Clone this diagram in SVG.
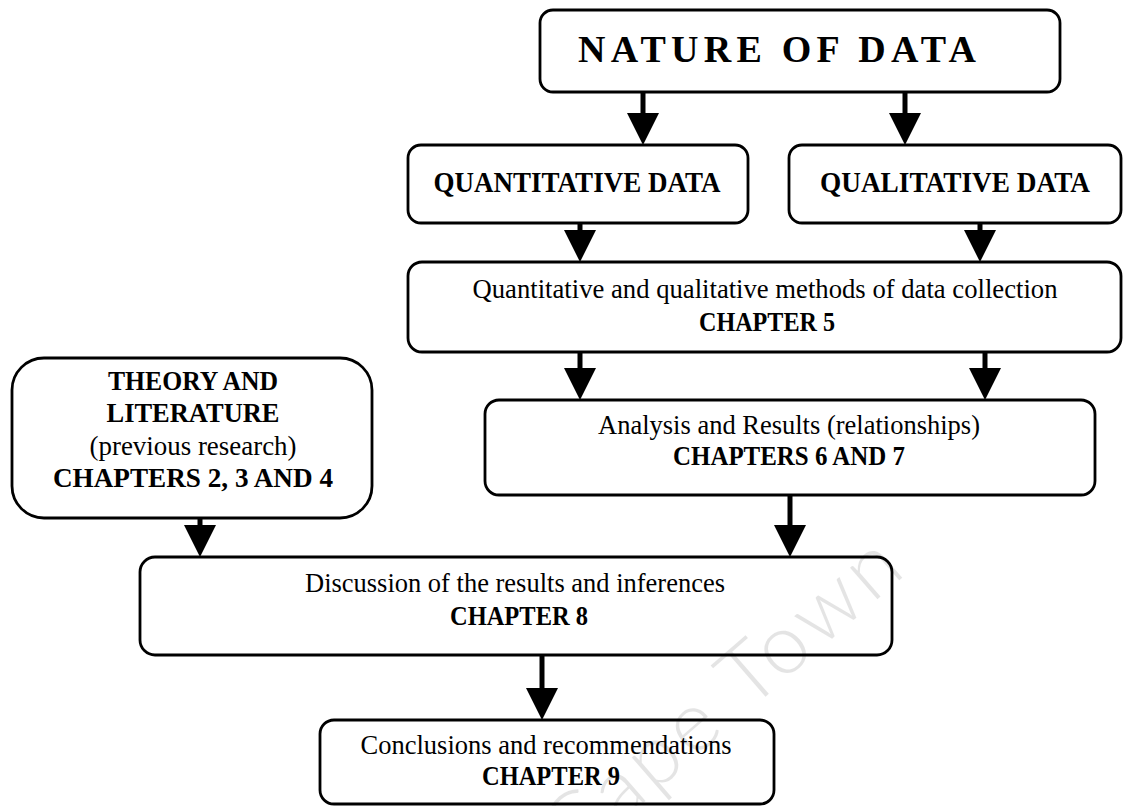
<svg xmlns="http://www.w3.org/2000/svg" width="1124" height="806" viewBox="0 0 1124 806">
  <style>
    .box { fill: #ffffff; stroke: #000000; stroke-width: 2.8; }
    .t { font-family: "Liberation Serif", "Times New Roman", serif; font-size: 26.5px; fill: #000000; text-anchor: middle; }
    .b { font-weight: bold; }
    .cap { font-family: "Liberation Serif", "Times New Roman", serif; font-size: 30px; font-weight: bold; fill: #000000; text-anchor: middle; }
    .title { font-family: "Liberation Serif", "Times New Roman", serif; font-size: 38px; font-weight: bold; fill: #000000; text-anchor: middle; }
    .link { stroke: #000000; stroke-width: 5; fill: none; marker-end: url(#head); }
    .mark { font-family: Lato, "Liberation Sans", Arial, sans-serif; font-weight: 300; font-size: 84px; letter-spacing: 5px; fill: #000000; opacity: 0.1; }
  </style>
  <defs>
    <marker id="head" viewBox="0 0 32 32" refX="22" refY="16" markerWidth="32" markerHeight="32" markerUnits="userSpaceOnUse" orient="auto">
      <path d="M0,0 L32,16 L0,32 z" fill="#000000"/>
    </marker>
  </defs>

  <rect width="1124" height="806" fill="#ffffff"/>

  <!-- flow connectors -->
  <g id="connectors">
    <line class="link" x1="643" y1="92" x2="643" y2="135"/>
    <line class="link" x1="905" y1="92" x2="905" y2="135"/>
    <line class="link" x1="580" y1="223" x2="580" y2="252"/>
    <line class="link" x1="980" y1="223" x2="980" y2="252"/>
    <line class="link" x1="580" y1="352" x2="580" y2="390"/>
    <line class="link" x1="985" y1="352" x2="985" y2="390"/>
    <line class="link" x1="200" y1="518" x2="200" y2="547"/>
    <line class="link" x1="790" y1="495" x2="790" y2="547"/>
    <line class="link" x1="542" y1="655" x2="542" y2="710"/>
  </g>

  <g id="nature">
    <rect class="box" x="540" y="10" width="520" height="82" rx="13"/>
    <text class="title" x="777" y="62" textLength="398" lengthAdjust="spacing">NATURE OF DATA</text>
  </g>

  <g id="quantitative">
    <rect class="box" x="408" y="145" width="340" height="78" rx="13"/>
    <text class="cap" x="577" y="192" textLength="287" lengthAdjust="spacingAndGlyphs">QUANTITATIVE DATA</text>
  </g>

  <g id="qualitative">
    <rect class="box" x="789" y="145" width="332" height="78" rx="13"/>
    <text class="cap" x="955" y="192" textLength="270" lengthAdjust="spacingAndGlyphs">QUALITATIVE DATA</text>
  </g>

  <g id="methods">
    <rect class="box" x="408" y="262" width="713" height="90" rx="14"/>
    <text class="t" x="765" y="298" textLength="585" lengthAdjust="spacingAndGlyphs">Quantitative and qualitative methods of data collection</text>
    <text class="t b" x="767" y="331" textLength="136" lengthAdjust="spacingAndGlyphs">CHAPTER 5</text>
  </g>

  <g id="theory">
    <rect class="box" x="12" y="358" width="360" height="160" rx="32"/>
    <text class="t b" x="193" y="390" textLength="170" lengthAdjust="spacingAndGlyphs">THEORY AND</text>
    <text class="t b" x="193" y="422" textLength="173" lengthAdjust="spacingAndGlyphs">LITERATURE</text>
    <text class="t" x="193" y="455" textLength="207" lengthAdjust="spacingAndGlyphs">(previous research)</text>
    <text class="t b" x="193" y="487" textLength="280" lengthAdjust="spacingAndGlyphs">CHAPTERS 2, 3 AND 4</text>
  </g>

  <g id="analysis">
    <rect class="box" x="485" y="400" width="610" height="95" rx="14"/>
    <text class="t" x="789" y="434" textLength="382" lengthAdjust="spacingAndGlyphs">Analysis and Results (relationships)</text>
    <text class="t b" x="789" y="465" textLength="232" lengthAdjust="spacingAndGlyphs">CHAPTERS 6 AND 7</text>
  </g>

  <g id="discussion">
    <rect class="box" x="140" y="557" width="752" height="98" rx="15"/>
    <text class="t" x="515" y="592" textLength="420" lengthAdjust="spacingAndGlyphs">Discussion of the results and inferences</text>
    <text class="t b" x="519" y="625" textLength="138" lengthAdjust="spacingAndGlyphs">CHAPTER 8</text>
  </g>

  <g id="conclusions">
    <rect class="box" x="320" y="720" width="454" height="84" rx="14"/>
    <text class="t" x="546" y="754" textLength="371" lengthAdjust="spacingAndGlyphs">Conclusions and recommendations</text>
    <text class="t b" x="551" y="785" textLength="138" lengthAdjust="spacingAndGlyphs">CHAPTER 9</text>
  </g>

  <!-- faint diagonal watermark -->
  <text class="mark" x="573" y="864" transform="rotate(-41 573 864)">Cape Town</text>
</svg>
